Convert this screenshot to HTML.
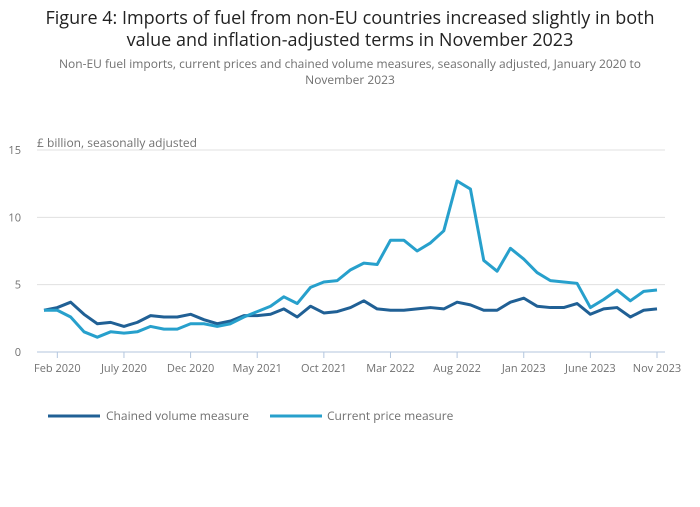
<!DOCTYPE html>
<html><head><meta charset="utf-8">
<style>
body{margin:0;background:#fff;width:700px;height:502px;overflow:hidden;font-family:"Liberation Sans",sans-serif;}
svg text{font-family:"Open Sans","Liberation Sans",sans-serif;}
</style></head>
<body>
<svg width="700" height="502">
<text x="350" y="24" text-anchor="middle" font-size="18" fill="#222">Figure 4: Imports of fuel from non-EU countries increased slightly in both</text>
<text x="350" y="46" text-anchor="middle" font-size="18" fill="#222">value and inflation-adjusted terms in November 2023</text>
<text x="350" y="68" text-anchor="middle" font-size="12" fill="#707070">Non-EU fuel imports, current prices and chained volume measures, seasonally adjusted, January 2020 to</text>
<text x="350" y="84" text-anchor="middle" font-size="12" fill="#707070">November 2023</text>
<text x="37" y="147" font-size="12" fill="#707070">£ billion, seasonally adjusted</text>
<g id="grid"></g><g id="axis"></g><g id="lines"></g>
<g>
<line x1="48" y1="416" x2="100" y2="416" stroke="#206095" stroke-width="3"/>
<text x="106" y="420" font-size="12" fill="#707070">Chained volume measure</text>
<line x1="270" y1="416" x2="322" y2="416" stroke="#27a0cc" stroke-width="3"/>
<text x="327" y="420" font-size="12" fill="#707070">Current price measure</text>
</g>
</svg>
<script>
const chained=[3.1,3.3,3.7,2.8,2.1,2.2,1.9,2.2,2.7,2.6,2.6,2.8,2.4,2.1,2.3,2.7,2.7,2.8,3.2,2.6,3.4,2.9,3.0,3.3,3.8,3.2,3.1,3.1,3.2,3.3,3.2,3.7,3.5,3.1,3.1,3.7,4.0,3.4,3.3,3.3,3.6,2.8,3.2,3.3,2.6,3.1,3.2];
const current=[3.1,3.1,2.6,1.5,1.1,1.5,1.4,1.5,1.9,1.7,1.7,2.1,2.1,1.9,2.1,2.6,3.0,3.4,4.1,3.6,4.8,5.2,5.3,6.1,6.6,6.5,8.3,8.3,7.5,8.1,9.0,12.7,12.1,6.8,6.0,7.7,6.9,5.9,5.3,5.2,5.1,3.3,3.9,4.6,3.8,4.5,4.6];
const yTicks=[0,5,10,15];
const xTickIdx=[1,6,11,16,21,26,31,36,41,46];
const xTickLabels=["Feb 2020","July 2020","Dec 2020","May 2021","Oct 2021","Mar 2022","Aug 2022","Jan 2023","June 2023","Nov 2023"];
const NS="http://www.w3.org/2000/svg";
const x=i=>44+i*(613/46);
const y=v=>352-v*(202/15);
const grid=document.getElementById('grid'),axis=document.getElementById('axis'),lines=document.getElementById('lines');
yTicks.forEach(t=>{
 const l=document.createElementNS(NS,'line');
 
 
 l.setAttribute('x1',37);l.setAttribute('x2',665);l.setAttribute('y1',y(t));l.setAttribute('y2',y(t));
 l.setAttribute('stroke',t===0?'#b3c6de':'#e0e0e0');l.setAttribute('stroke-width',1);
 grid.appendChild(l);
 const tx=document.createElementNS(NS,'text');
 
 
 tx.setAttribute('x',21);tx.setAttribute('y',y(t)+4);tx.setAttribute('text-anchor','end');
 tx.setAttribute('font-size','11');tx.setAttribute('fill','#707070');tx.textContent=t;
 axis.appendChild(tx);
});
xTickIdx.forEach((idx,k)=>{
 const l=document.createElementNS(NS,'line');
 
 
 l.setAttribute('x1',x(idx));l.setAttribute('x2',x(idx));l.setAttribute('y1',352);l.setAttribute('y2',358);
 l.setAttribute('stroke','#b3c6de');
 axis.appendChild(l);
 const tx=document.createElementNS(NS,'text');
 
 
 tx.setAttribute('x',x(idx));tx.setAttribute('y',372);tx.setAttribute('text-anchor','middle');
 tx.setAttribute('font-size','11');tx.setAttribute('fill','#707070');tx.textContent=xTickLabels[k];
 axis.appendChild(tx);
});
function draw(data,color,name){
 const p=document.createElementNS(NS,'polyline');
 
 
 p.setAttribute('points',data.map((v,i)=>x(i)+','+y(v)).join(' '));
 p.setAttribute('fill','none');p.setAttribute('stroke',color);p.setAttribute('stroke-width',3);
 p.setAttribute('stroke-linejoin','round');
 lines.appendChild(p);
}
draw(chained,'#206095','chained-volume-line');
draw(current,'#27a0cc','current-price-line');
</script>
</body></html>
